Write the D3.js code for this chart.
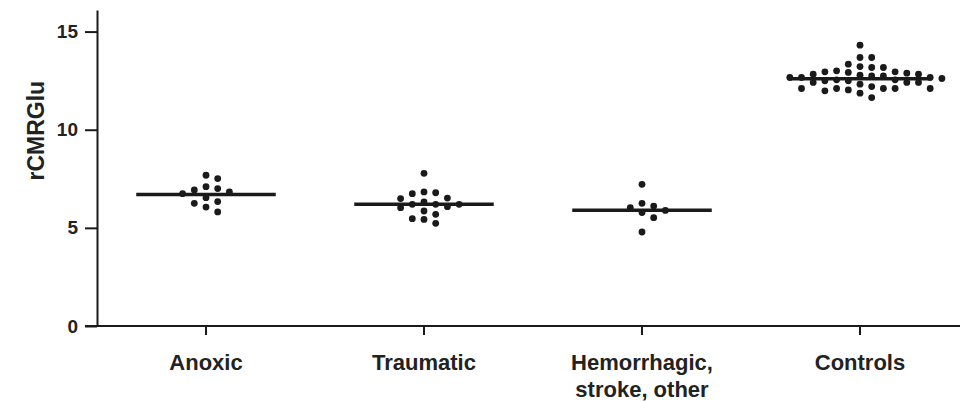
<!DOCTYPE html>
<html>
<head>
<meta charset="utf-8">
<script src="https://cdn.jsdelivr.net/npm/d3@7"></script>
<style>
  body { margin: 0; background: #fff; }
  text { font-family: "Liberation Sans", Arial, sans-serif; font-weight: bold; fill: #222; }
</style>
</head>
<body>
<script>
//categories and their label lines
var categories = ["Anoxic", "Traumatic", "Hemorrhagic", "Controls"];
var categoryLabels = [["Anoxic"], ["Traumatic"], ["Hemorrhagic,", "stroke, other"], ["Controls"]];

//rCMRGlu values, one list per group
var anoxic = [7.10, 6.93, 6.74, 7.51, 7.68, 6.83, 7.00, 6.25, 6.54, 6.34, 5.81, 6.06];
var traumatic = [7.78, 6.83, 6.74, 6.79, 6.49, 6.52, 6.20, 6.20, 6.03, 5.86, 6.08, 6.20, 6.32, 5.47, 5.23, 5.43, 5.69];
var hemorrhagic = [7.22, 6.03, 5.78, 6.25, 5.52, 5.89, 6.11, 4.79];
var controls = [12.61, 12.83, 12.54, 12.10, 13.22, 12.83, 12.54, 12.10, 13.17, 12.74, 12.49, 12.10,
  13.68, 12.95, 12.66, 12.41, 11.98, 14.31, 13.68, 12.92, 12.32, 11.64, 12.95, 12.74, 12.41, 11.86,
  13.00, 12.49, 12.03, 13.17, 12.78, 12.41, 12.10, 12.88, 13.34, 12.66, 12.10, 12.66, 12.20];

//group medians (horizontal bars)
var medians = [6.7, 6.2, 5.9, 12.6];

var yTicks = [0, 5, 10, 15];

var groups = [anoxic, traumatic, hemorrhagic, controls];

var width = 960, height = 402;
var margin = {top: 10, right: 0, bottom: 76, left: 97};

var svg = d3.select("body").append("svg")
  .attr("width", width)
  .attr("height", height);

var x = d3.scaleBand()
  .domain(categories)
  .range([margin.left, margin.left + 4 * 218])
  .padding(0);

var y = d3.scaleLinear()
  .domain([0, 16.1])
  .range([height - margin.bottom, margin.top]);

var ink = "#1a1a1a";

//y axis
var yAxis = svg.append("g")
  .attr("transform", "translate(" + margin.left + ",0)")
  .call(d3.axisLeft(y).tickValues(yTicks).tickSize(12).tickPadding(7).tickSizeOuter(0));
yAxis.select(".domain").attr("stroke", ink).attr("stroke-width", 2);
yAxis.selectAll(".tick line").attr("stroke", ink).attr("stroke-width", 2);
yAxis.selectAll(".tick text").style("font-size", "19px").attr("fill", ink);

//x axis line (runs a bit left of the y axis)
svg.append("line")
  .attr("x1", margin.left - 12).attr("x2", width)
  .attr("y1", y(0)).attr("y2", y(0))
  .attr("stroke", ink).attr("stroke-width", 2);

//category ticks
svg.selectAll(".xtick")
  .data(categories)
  .enter().append("line")
  .attr("class", "xtick")
  .attr("x1", function(d) { return x(d) + x.bandwidth() / 2; })
  .attr("x2", function(d) { return x(d) + x.bandwidth() / 2; })
  .attr("y1", y(0)).attr("y2", y(0) + 9)
  .attr("stroke", ink).attr("stroke-width", 2);

//category labels
svg.selectAll(".xlabel")
  .data(categories)
  .enter().append("text")
  .attr("class", "xlabel")
  .attr("text-anchor", "middle")
  .style("font-size", "22px")
  .attr("fill", ink)
  .each(function(d, i) {
    var t = d3.select(this);
    categoryLabels[i].forEach(function(line, j) {
      t.append("tspan")
        .attr("x", x(d) + x.bandwidth() / 2)
        .attr("y", y(0) + 44 + j * 27)
        .text(line);
    });
  });

//y axis title
svg.append("text")
  .attr("transform", "translate(44," + y(9.95) + ") rotate(-90)")
  .attr("text-anchor", "middle")
  .style("font-size", "23px")
  .attr("fill", ink)
  .text("rCMRGlu");

//simple column beeswarm so dots do not overlap
var step = 11.7, minDist = 8;
function swarm(values) {
  var placed = [];
  values.slice().sort(function(a, b) { return b - a; }).forEach(function(v) {
    var py = y(v);
    for (var k = 0; k < 40; k++) {
      var col = k === 0 ? 0 : (k % 2 ? (k + 1) / 2 : -k / 2);
      var px = col * step;
      var ok = placed.every(function(p) {
        var dx = p.dx - px, dy = p.py - py;
        return Math.sqrt(dx * dx + dy * dy) >= minDist;
      });
      if (ok) { placed.push({v: v, dx: px, py: py}); break; }
    }
  });
  return placed;
}

groups.forEach(function(vals, i) {
  var cx = x(categories[i]) + x.bandwidth() / 2;

  svg.append("line")
    .attr("x1", cx - 0.32 * x.bandwidth())
    .attr("x2", cx + 0.32 * x.bandwidth())
    .attr("y1", y(medians[i])).attr("y2", y(medians[i]))
    .attr("stroke", ink).attr("stroke-width", 3.5);

  svg.selectAll(".dot" + i)
    .data(swarm(vals))
    .enter().append("circle")
    .attr("class", "dot" + i)
    .attr("cx", function(d) { return cx + d.dx; })
    .attr("cy", function(d) { return y(d.v); })
    .attr("r", 3.4)
    .attr("fill", ink);
});
</script>
</body>
</html>
